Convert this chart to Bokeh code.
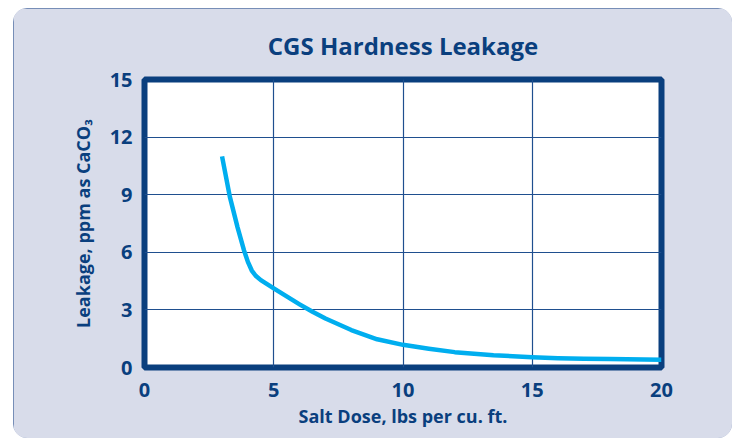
from bokeh.plotting import figure
from bokeh.models import Range1d, FixedTicker
from bokeh.embed import file_html
from bokeh.resources import INLINE

# Data
salt_dose = [3.0, 3.3, 3.6, 3.85, 4.0, 4.15, 4.3, 4.5, 5.0, 5.5, 6.0, 6.5, 7.0, 8.0,
             9.0, 10.0, 11.0, 12.0, 13.5, 15.0, 16.0, 17.0, 18.0, 20.0]
leakage = [11.0, 8.9, 7.3, 6.1, 5.5, 5.05, 4.78, 4.55, 4.12, 3.70, 3.29, 2.90, 2.55, 1.95,
           1.47, 1.18, 0.98, 0.80, 0.64, 0.53, 0.48, 0.45, 0.44, 0.40]
x_ticks = [0, 5, 10, 15, 20]
y_ticks = [0, 3, 6, 9, 12, 15]

DARK = "#0A3F7E"
PANEL = "#D8DCEA"
CURVE = "#00AEEF"
FONT = "Open Sans"

p = figure(frame_width=517, frame_height=288,
           min_border_left=131, min_border_right=71,
           min_border_top=71, min_border_bottom=71,
           x_range=Range1d(0, 20), y_range=Range1d(0, 15),
           output_backend="svg", toolbar_location=None,
           background_fill_color="white", border_fill_color=PANEL,
           styles={"border-radius": "14px", "overflow": "hidden",
                   "margin-left": "13px", "margin-top": "8px",
                   "outline": "1.5px solid #5774A6", "outline-offset": "-1px"})

p.title.text = "CGS Hardness Leakage"
p.title.align = "center"
p.title.text_font = FONT
p.title.text_font_style = "bold"
p.title.text_font_size = "24px"
p.title.text_color = DARK
p.title.standoff = 36

p.outline_line_color = DARK
p.outline_line_width = 6

for ax in (p.xaxis, p.yaxis):
    ax.axis_line_color = None
    ax.major_tick_line_color = None
    ax.minor_tick_line_color = None
    ax.major_tick_out = 0
    ax.major_tick_in = 0
    ax.major_label_text_font = FONT
    ax.major_label_text_font_style = "bold"
    ax.major_label_text_font_size = "20px"
    ax.major_label_text_color = DARK
    ax.axis_label_text_font = FONT
    ax.axis_label_text_font_style = "bold"
    ax.axis_label_text_font_size = "18px"
    ax.axis_label_text_color = DARK

p.xaxis.ticker = FixedTicker(ticks=x_ticks)
p.yaxis.ticker = FixedTicker(ticks=y_ticks)
p.xaxis.major_label_standoff = 15
p.yaxis.major_label_standoff = 12
p.xaxis.axis_label = "Salt Dose, lbs per cu. ft."
p.yaxis.axis_label = "Leakage, ppm as CaCO\u2083"
p.xaxis.axis_label_standoff = 4
p.yaxis.axis_label_standoff = 12

p.xgrid.ticker = FixedTicker(ticks=x_ticks)
p.ygrid.ticker = FixedTicker(ticks=y_ticks)
for g in (p.xgrid, p.ygrid):
    g.grid_line_color = "#1F4F8F"
    g.grid_line_width = 1.2

p.line(salt_dose, leakage, line_color=CURVE, line_width=4.5,
       line_join="round", line_cap="butt")

open("out.html", "w").write(file_html(p, INLINE))
